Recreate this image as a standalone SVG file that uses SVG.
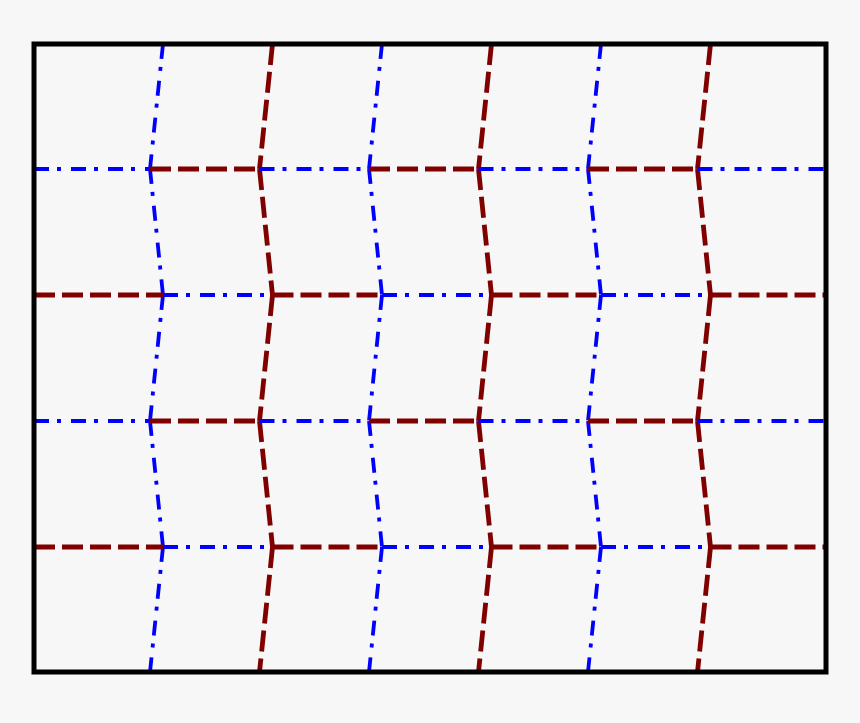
<svg xmlns="http://www.w3.org/2000/svg" width="860" height="723" viewBox="0 0 860 723">
<style>
.b{stroke:#0000ff;stroke-width:3.8;fill:none;stroke-dasharray:15,8,4,10}
.r{stroke:#800000;stroke-width:4.8;fill:none;stroke-dasharray:21,7}
.f{stroke:#000;stroke-width:5;fill:none}
</style>
<rect width="860" height="723" fill="#f7f7f7"/>
<g id="vertical-blue">
<path class="b" d="M163,44L150,169"/><path class="b" d="M150,169L163,295"/><path class="b" d="M163,295L150,421"/><path class="b" d="M150,421L163,547"/><path class="b" d="M163,547L150,672"/>
<path class="b" d="M382,44L369,169"/><path class="b" d="M369,169L382,295"/><path class="b" d="M382,295L369,421"/><path class="b" d="M369,421L382,547"/><path class="b" d="M382,547L369,672"/>
<path class="b" d="M601,44L588,169"/><path class="b" d="M588,169L601,295"/><path class="b" d="M601,295L588,421"/><path class="b" d="M588,421L601,547"/><path class="b" d="M601,547L588,672"/>
</g>
<g id="vertical-red">
<path class="r" d="M272.5,44L259.5,169"/><path class="r" d="M259.5,169L272.5,295"/><path class="r" d="M272.5,295L259.5,421"/><path class="r" d="M259.5,421L272.5,547"/><path class="r" d="M272.5,547L259.5,672"/>
<path class="r" d="M491.5,44L478.5,169"/><path class="r" d="M478.5,169L491.5,295"/><path class="r" d="M491.5,295L478.5,421"/><path class="r" d="M478.5,421L491.5,547"/><path class="r" d="M491.5,547L478.5,672"/>
<path class="r" d="M710.5,44L697.5,169"/><path class="r" d="M697.5,169L710.5,295"/><path class="r" d="M710.5,295L697.5,421"/><path class="r" d="M697.5,421L710.5,547"/><path class="r" d="M710.5,547L697.5,672"/>
</g>
<g id="horizontal">
<path class="b" d="M34,169H150"/><path class="r" d="M150,169H259.5"/><path class="b" d="M259.5,169H369"/><path class="r" d="M369,169H478.5"/><path class="b" d="M478.5,169H588"/><path class="r" d="M588,169H697.5"/><path class="b" d="M697.5,169H826"/>
<path class="r" d="M34,295H163"/><path class="b" d="M163,295H272.5"/><path class="r" d="M272.5,295H382"/><path class="b" d="M382,295H491.5"/><path class="r" d="M491.5,295H601"/><path class="b" d="M601,295H710.5"/><path class="r" d="M710.5,295H826"/>
<path class="b" d="M34,421H150"/><path class="r" d="M150,421H259.5"/><path class="b" d="M259.5,421H369"/><path class="r" d="M369,421H478.5"/><path class="b" d="M478.5,421H588"/><path class="r" d="M588,421H697.5"/><path class="b" d="M697.5,421H826"/>
<path class="r" d="M34,547H163"/><path class="b" d="M163,547H272.5"/><path class="r" d="M272.5,547H382"/><path class="b" d="M382,547H491.5"/><path class="r" d="M491.5,547H601"/><path class="b" d="M601,547H710.5"/><path class="r" d="M710.5,547H826"/>
</g>
<rect id="frame" class="f" x="34" y="44" width="792" height="628"/>
</svg>
